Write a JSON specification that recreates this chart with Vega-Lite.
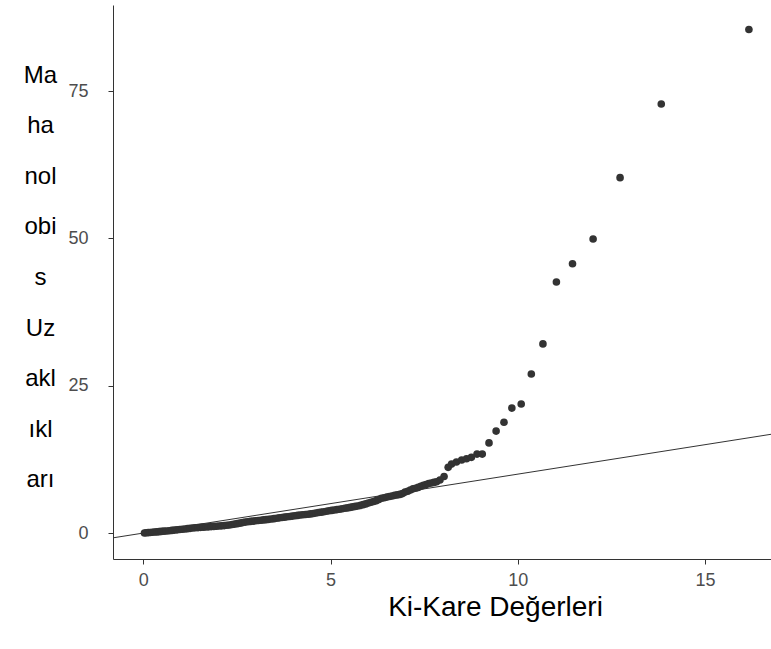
{
  "$schema": "https://vega.github.io/schema/vega-lite/v6.json",
  "width": 658,
  "height": 554,
  "autosize": "none",
  "padding": {"left": 113, "top": 5, "right": 0, "bottom": 90},
  "background": "white",
  "config": {
    "view": {"stroke": null},
    "font": "Liberation Sans",
    "axis": {"grid": false, "domainColor": "#333333", "domainWidth": 1, "tickColor": "#333333", "tickWidth": 1, "tickSize": 5, "labelColor": "#4D4D4D", "labelFont": "Liberation Sans", "labelFontSize": 18, "titleFont": "Liberation Sans", "titleFontWeight": "normal", "titleColor": "#000000", "titleFontSize": 24}
  },
  "layer": [
    {
      "data": {"values": [{"x": -0.81, "y": -0.81, "x2": 16.76, "y2": 16.76}]},
      "mark": {"type": "rule", "color": "#333333", "strokeWidth": 1, "clip": true},
      "encoding": {
        "x": {"field": "x", "type": "quantitative", "scale": {"domain": [-0.81, 16.76], "nice": false, "zero": false},
          "axis": {"values": [0, 5, 10, 15], "title": "Ki-Kare Değerleri", "labelPadding": 7, "titleFontSize": 28, "titleX": 382, "titleY": 48, "titleBaseline": "middle", "titleAnchor": null}},
        "y": {"field": "y", "type": "quantitative", "scale": {"domain": [-4.4, 89.6], "nice": false, "zero": false},
          "axis": {"values": [0, 25, 50, 75], "title": ["Ma", "ha", "nol", "obi", "s", "Uz", "akl", "ıkl", "arı"], "labelPadding": 20, "titleAngle": 0, "titleAlign": "center", "titleBaseline": "middle", "titleX": -73, "titleY": 70, "titleLineHeight": 50.6}},
        "x2": {"field": "x2"},
        "y2": {"field": "y2"}
      }
    },
    {
      "data": {"values": [
        {"chisq": 0.03, "md": 0.02}, {"chisq": 0.08, "md": 0.05}, {"chisq": 0.13, "md": 0.08}, {"chisq": 0.18, "md": 0.1},
        {"chisq": 0.24, "md": 0.13}, {"chisq": 0.3, "md": 0.17}, {"chisq": 0.36, "md": 0.2}, {"chisq": 0.42, "md": 0.24},
        {"chisq": 0.48, "md": 0.28}, {"chisq": 0.55, "md": 0.32}, {"chisq": 0.62, "md": 0.36}, {"chisq": 0.69, "md": 0.4},
        {"chisq": 0.76, "md": 0.45}, {"chisq": 0.83, "md": 0.5}, {"chisq": 0.9, "md": 0.55}, {"chisq": 0.97, "md": 0.6},
        {"chisq": 1.04, "md": 0.65}, {"chisq": 1.11, "md": 0.7}, {"chisq": 1.18, "md": 0.75}, {"chisq": 1.25, "md": 0.8},
        {"chisq": 1.32, "md": 0.85}, {"chisq": 1.39, "md": 0.9}, {"chisq": 1.46, "md": 0.93}, {"chisq": 1.53, "md": 0.97},
        {"chisq": 1.6, "md": 1.0}, {"chisq": 1.67, "md": 1.03}, {"chisq": 1.74, "md": 1.06}, {"chisq": 1.81, "md": 1.1},
        {"chisq": 1.88, "md": 1.13}, {"chisq": 1.95, "md": 1.16}, {"chisq": 2.02, "md": 1.2}, {"chisq": 2.09, "md": 1.23},
        {"chisq": 2.16, "md": 1.27}, {"chisq": 2.23, "md": 1.32}, {"chisq": 2.3, "md": 1.38}, {"chisq": 2.37, "md": 1.45},
        {"chisq": 2.44, "md": 1.52}, {"chisq": 2.51, "md": 1.6}, {"chisq": 2.58, "md": 1.68}, {"chisq": 2.65, "md": 1.78},
        {"chisq": 2.72, "md": 1.86}, {"chisq": 2.79, "md": 1.92}, {"chisq": 2.86, "md": 1.98}, {"chisq": 2.93, "md": 2.03},
        {"chisq": 3.0, "md": 2.08}, {"chisq": 3.07, "md": 2.13}, {"chisq": 3.14, "md": 2.18}, {"chisq": 3.21, "md": 2.23},
        {"chisq": 3.28, "md": 2.28}, {"chisq": 3.35, "md": 2.33}, {"chisq": 3.42, "md": 2.39}, {"chisq": 3.49, "md": 2.45},
        {"chisq": 3.56, "md": 2.52}, {"chisq": 3.63, "md": 2.58}, {"chisq": 3.7, "md": 2.64}, {"chisq": 3.77, "md": 2.7},
        {"chisq": 3.84, "md": 2.76}, {"chisq": 3.91, "md": 2.82}, {"chisq": 3.98, "md": 2.88}, {"chisq": 4.05, "md": 2.94},
        {"chisq": 4.12, "md": 3.0}, {"chisq": 4.19, "md": 3.06}, {"chisq": 4.26, "md": 3.1}, {"chisq": 4.33, "md": 3.15},
        {"chisq": 4.4, "md": 3.2}, {"chisq": 4.47, "md": 3.25}, {"chisq": 4.54, "md": 3.32}, {"chisq": 4.61, "md": 3.4},
        {"chisq": 4.68, "md": 3.48}, {"chisq": 4.75, "md": 3.55}, {"chisq": 4.82, "md": 3.62}, {"chisq": 4.89, "md": 3.7},
        {"chisq": 4.96, "md": 3.78}, {"chisq": 5.03, "md": 3.85}, {"chisq": 5.1, "md": 3.92}, {"chisq": 5.17, "md": 3.98},
        {"chisq": 5.24, "md": 4.05}, {"chisq": 5.31, "md": 4.12}, {"chisq": 5.38, "md": 4.2}, {"chisq": 5.45, "md": 4.28},
        {"chisq": 5.52, "md": 4.36}, {"chisq": 5.59, "md": 4.44}, {"chisq": 5.66, "md": 4.52}, {"chisq": 5.73, "md": 4.6},
        {"chisq": 5.8, "md": 4.7}, {"chisq": 5.87, "md": 4.82}, {"chisq": 5.94, "md": 4.95}, {"chisq": 6.01, "md": 5.1},
        {"chisq": 6.08, "md": 5.22}, {"chisq": 6.15, "md": 5.35}, {"chisq": 6.22, "md": 5.5}, {"chisq": 6.29, "md": 5.7},
        {"chisq": 6.36, "md": 5.9}, {"chisq": 6.43, "md": 6.0}, {"chisq": 6.5, "md": 6.1}, {"chisq": 6.57, "md": 6.2},
        {"chisq": 6.64, "md": 6.3}, {"chisq": 6.71, "md": 6.4}, {"chisq": 6.78, "md": 6.48}, {"chisq": 6.85, "md": 6.56},
        {"chisq": 6.92, "md": 6.7}, {"chisq": 6.99, "md": 6.95}, {"chisq": 7.06, "md": 7.1}, {"chisq": 7.13, "md": 7.3},
        {"chisq": 7.2, "md": 7.5}, {"chisq": 7.27, "md": 7.6}, {"chisq": 7.34, "md": 7.75}, {"chisq": 7.41, "md": 7.95},
        {"chisq": 7.48, "md": 8.1}, {"chisq": 7.55, "md": 8.25}, {"chisq": 7.62, "md": 8.4}, {"chisq": 7.69, "md": 8.5},
        {"chisq": 7.76, "md": 8.6}, {"chisq": 7.83, "md": 8.7}, {"chisq": 7.92, "md": 9.0}, {"chisq": 8.03, "md": 9.6},
        {"chisq": 8.14, "md": 11.15}, {"chisq": 8.23, "md": 11.7}, {"chisq": 8.36, "md": 12.05}, {"chisq": 8.5, "md": 12.4},
        {"chisq": 8.63, "md": 12.6}, {"chisq": 8.76, "md": 12.85}, {"chisq": 8.91, "md": 13.4}, {"chisq": 9.05, "md": 13.4},
        {"chisq": 9.23, "md": 15.3}, {"chisq": 9.42, "md": 17.3}, {"chisq": 9.63, "md": 18.8}, {"chisq": 9.84, "md": 21.2},
        {"chisq": 10.09, "md": 21.9}, {"chisq": 10.36, "md": 27.0}, {"chisq": 10.67, "md": 32.1}, {"chisq": 11.03, "md": 42.6},
        {"chisq": 11.46, "md": 45.7}, {"chisq": 12.01, "md": 49.9}, {"chisq": 12.73, "md": 60.3}, {"chisq": 13.83, "md": 72.8},
        {"chisq": 16.17, "md": 85.45}
      ]},
      "mark": {"type": "point", "filled": true, "color": "#333333", "opacity": 1, "size": 58, "clip": true},
      "encoding": {
        "x": {"field": "chisq", "type": "quantitative"},
        "y": {"field": "md", "type": "quantitative"}
      }
    }
  ]
}
